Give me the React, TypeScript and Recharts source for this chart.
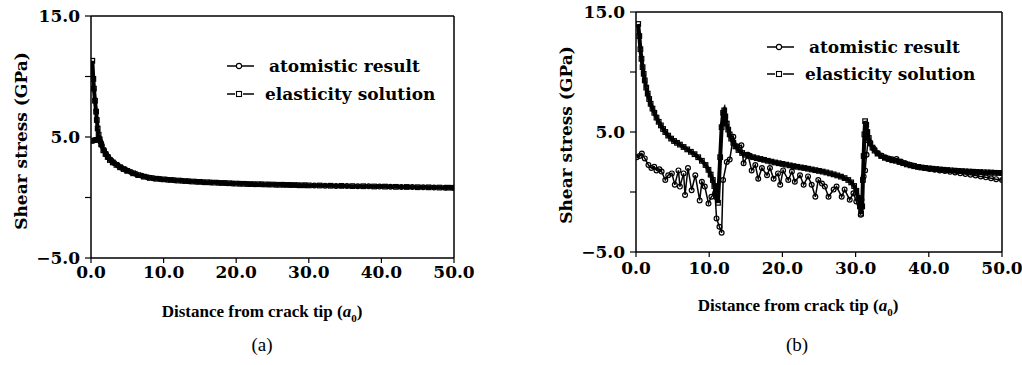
import React from "react";
import { LineChart, Line, XAxis, YAxis, ReferenceLine } from "recharts";

// ---------- Panel (a) ----------
const xLeftAtom = [0.1, 0.3, 0.5, 0.7, 0.9, 1.1, 1.3, 1.5, 1.8, 2.1, 2.4, 2.8, 3.2, 3.7, 4.2, 4.8, 5.5, 6.2, 7.0, 7.8, 8.6, 9.5, 10.5, 11.5, 12.5, 13.5, 14.5, 15.5, 16.5, 17.5, 18.5, 19.5, 20.5, 21.5, 22.5, 23.5, 24.5, 25.5, 26.5, 27.5, 28.5, 29.5, 30.75, 32.25, 33.75, 35.25, 36.75, 38.25, 39.75, 41.25, 42.75, 44.25, 45.75, 47.25, 48.75, 50];
const yLeftAtom = [4.7, 4.7, 4.75, 4.75, 4.8, 4.9, 4.6, 4.3, 3.9, 3.55, 3.3, 3.05, 2.85, 2.65, 2.45, 2.28, 2.1, 1.95, 1.8, 1.68, 1.6, 1.52, 1.47, 1.42, 1.38, 1.34, 1.3, 1.27, 1.24, 1.22, 1.19, 1.16, 1.14, 1.12, 1.1, 1.09, 1.07, 1.06, 1.05, 1.03, 1.02, 1.01, 0.99, 0.98, 0.96, 0.95, 0.93, 0.92, 0.9, 0.89, 0.87, 0.86, 0.84, 0.83, 0.81, 0.8];

const xLeftElas = [0.18, 0.32, 0.4, 0.55, 0.7, 0.8, 0.92, 1.05, 1.2, 1.4, 1.7, 2.0, 2.3, 2.6, 3.0, 3.5, 4.0, 4.5, 5.0, 5.8, 6.5, 7.3, 8.1, 9.0, 10, 11, 12, 13, 14, 15, 16, 17, 18, 19, 20, 21, 22, 23, 24, 25, 26, 27, 28, 29, 30, 31.5, 33, 34.5, 36, 37.5, 39, 40.5, 42, 43.5, 45, 46.5, 48, 49.2, 50];
const yLeftElas = [11.3, 9.8, 9.0, 8.0, 7.1, 6.4, 5.7, 5.2, 4.8, 4.4, 3.9, 3.6, 3.35, 3.1, 2.9, 2.7, 2.5, 2.35, 2.2, 2.0, 1.85, 1.72, 1.62, 1.55, 1.5, 1.45, 1.4, 1.36, 1.32, 1.29, 1.26, 1.23, 1.2, 1.18, 1.15, 1.13, 1.11, 1.1, 1.08, 1.07, 1.05, 1.04, 1.03, 1.01, 1.0, 0.99, 0.97, 0.96, 0.94, 0.93, 0.91, 0.9, 0.88, 0.87, 0.85, 0.84, 0.82, 0.81, 0.8];

// ---------- Panel (b) ----------
const xRightAtom = [0.1, 0.5, 0.8, 1.2, 1.7, 2.1, 2.5, 2.8, 3.2, 3.5, 4.0, 4.4, 4.9, 5.3, 5.8, 6.0, 6.5, 6.7, 7.1, 7.6, 8.1, 8.7, 9.0, 9.4, 9.9, 10.3, 10.8, 11.0, 11.4, 11.7, 11.9, 12.4, 12.8, 13.3, 13.8, 14.4, 14.7, 15.3, 15.8, 16.3, 16.7, 17.2, 17.9, 18.3, 18.8, 19.4, 19.7, 20.1, 20.8, 21.3, 21.7, 22.4, 22.9, 23.5, 24.0, 24.5, 24.9, 25.4, 25.8, 26.3, 27.0, 27.4, 28.1, 28.5, 29.2, 29.7, 30.1, 30.7, 30.8, 31.1, 31.3, 31.5, 31.7, 32.0, 32.5, 33.0, 33.5, 34.0, 34.5, 35.0, 35.6, 36.2, 36.8, 37.4, 38.0, 38.7, 39.4, 40.1, 40.8, 41.5, 42.2, 42.9, 43.6, 44.3, 45.0, 45.7, 46.4, 47.1, 47.8, 48.5, 49.2, 50.0];
const yRightAtom = [2.9, 3.0, 3.2, 2.8, 2.25, 2.0, 2.1, 1.8, 1.9, 1.7, 1.0, 1.4, 1.55, 0.6, 1.8, 0.45, 1.55, -0.25, 2.0, 0.15, 1.4, -0.7, 0.85, 0.45, -0.95, -0.4, -0.1, -2.2, -2.9, -3.4, 1.0, 2.5, 2.7, 4.6, 3.8, 3.9, 2.4, 3.1, 1.8, 2.25, 1.1, 2.0, 1.4, 2.0, 1.1, 1.55, 0.6, 1.8, 1.0, 1.7, 0.85, 1.4, 0.6, 1.3, 0.6, -0.4, 1.0, 0.7, 0.45, -0.4, 0.2, 0.45, -0.4, 0.2, -0.65, -0.1, -0.8, -1.9, -0.65, 1.3, 1.8, 3.1, 4.3, 4.1, 3.6, 3.25, 3.05, 2.9, 2.8, 2.72, 2.75, 2.55, 2.4, 2.28, 2.18, 2.08, 2.0, 1.92, 1.86, 1.8, 1.74, 1.68, 1.62, 1.56, 1.5, 1.44, 1.38, 1.3, 1.22, 1.15, 1.07, 1.0];

const xRightElas = [0.3, 0.45, 0.6, 0.75, 0.9, 1.05, 1.2, 1.4, 1.6, 1.8, 2.0, 2.25, 2.5, 2.8, 3.1, 3.4, 3.7, 4.0, 4.4, 4.8, 5.2, 5.6, 6.0, 6.5, 7.0, 7.5, 8.0, 8.5, 9.0, 9.5, 9.9, 10.2, 10.5, 10.7, 10.9, 11.0, 11.2, 11.5, 11.7, 11.9, 12.05, 12.2, 12.4, 12.6, 12.8, 13.0, 13.3, 13.6, 14.0, 14.5, 15.0, 15.5, 16.0, 16.5, 17.0, 17.5, 18.0, 18.5, 19.0, 19.5, 20.0, 20.5, 21.0, 21.5, 22.0, 22.5, 23.0, 23.5, 24.0, 24.5, 25.0, 25.5, 26.0, 26.5, 27.0, 27.5, 28.0, 28.5, 29.0, 29.4, 29.8, 30.1, 30.4, 30.6, 30.75, 30.9, 31.0, 31.1, 31.2, 31.3, 31.45, 31.6, 31.8, 32.0, 32.3, 32.6, 33.0, 33.5, 34.0, 34.5, 35.0, 35.5, 36.0, 36.5, 37.0, 37.5, 38.0, 38.5, 39.0, 39.5, 40.0, 40.5, 41.0, 41.5, 42.0, 42.5, 43.0, 43.5, 44.0, 44.5, 45.0, 45.5, 46.0, 46.5, 47.0, 47.5, 48.0, 48.5, 49.0, 49.5, 50.0];
const yRightElas = [14.0, 13.0, 11.9, 11.1, 10.4, 9.85, 9.3, 8.7, 8.2, 7.75, 7.35, 6.95, 6.6, 6.2, 5.85, 5.55, 5.25, 5.0, 4.7, 4.45, 4.25, 4.1, 3.95, 3.75, 3.55, 3.35, 3.15, 2.9, 2.6, 2.25, 1.85, 1.45, 1.0, 0.5, 0.0, -0.4, -0.9, 2.9, 5.4, 6.6, 6.8, 6.3, 5.7, 5.2, 4.8, 4.45, 4.1, 3.8, 3.5, 3.25, 3.1, 3.0, 2.9, 2.82, 2.75, 2.68, 2.6, 2.53, 2.46, 2.4, 2.34, 2.28, 2.22, 2.16, 2.1, 2.05, 2.0, 1.94, 1.88, 1.82, 1.76, 1.7, 1.63, 1.55, 1.47, 1.38, 1.28, 1.16, 1.0, 0.8, 0.5, 0.1, -0.5, -1.2, -1.8, -1.2, 1.0, 3.0, 4.8, 5.9, 5.6, 5.0, 4.5, 4.05, 3.7, 3.45, 3.2, 3.0, 2.85, 2.75, 2.65, 2.6, 2.5, 2.4, 2.3, 2.22, 2.15, 2.09, 2.04, 2.0, 1.97, 1.94, 1.91, 1.88, 1.85, 1.83, 1.8, 1.78, 1.76, 1.74, 1.72, 1.7, 1.69, 1.67, 1.66, 1.64, 1.63, 1.62, 1.6, 1.59, 1.58];

// ---------- Axes / labels ----------
const xTicks = [0, 10, 20, 30, 40, 50];
const yTicks = [-5, 0, 5, 10, 15];
const yLabeled = [-5, 5, 15];
const seriesNames = ["atomistic result", "elasticity solution"];
const xTitle = "Distance from crack tip";
const yTitle = "Shear stress (GPa)";
const panelCaptions = ["(a)", "(b)"];

const toPts = (xs: number[], ys: number[]) => xs.map((x, i) => ({ x, y: ys[i] }));

const TICK_FONT = { fontFamily: '"DejaVu Serif", serif', fontWeight: 700, fontSize: 17, fill: "#000" };

const fmtY = (v: number) => (yLabeled.includes(v) ? (v < 0 ? "\u2212" + Math.abs(v).toFixed(1) : v.toFixed(1)) : "");
const fmtX = (v: number) => v.toFixed(1);

const CircleDot = (p: any) => {
  const { cx, cy, index } = p;
  if (cx == null || cy == null) return <g key={"c" + index} />;
  return <circle key={"c" + index} cx={cx} cy={cy} r={2.4} fill="none" stroke="#000" strokeWidth={1.2} />;
};
const SquareDot = (p: any) => {
  const { cx, cy, index } = p;
  if (cx == null || cy == null) return <g key={"s" + index} />;
  return <rect key={"s" + index} x={cx - 2.3} y={cy - 2.3} width={4.6} height={4.6} fill="none" stroke="#000" strokeWidth={1.2} />;
};

const LegendRow = ({ left, top, square, text, textOffset }: any) => (
  <div style={{ position: "absolute", left, top, height: 20, display: "flex", alignItems: "center" }}>
    <svg width={30} height={20} style={{ display: "block" }}>
      {square ? (
        <g>
          <line x1={1} y1={10} x2={9} y2={10} stroke="#000" strokeWidth={1.5} />
          <line x1={17} y1={10} x2={28} y2={10} stroke="#000" strokeWidth={1.5} />
          <rect x={10.5} y={7.5} width={5} height={5} fill="#fff" stroke="#000" strokeWidth={1.1} />
        </g>
      ) : (
        <g>
          <line x1={1} y1={10} x2={28} y2={10} stroke="#000" strokeWidth={1.5} />
          <circle cx={13} cy={10} r={2.6} fill="#fff" stroke="#000" strokeWidth={1.1} />
        </g>
      )}
    </svg>
    <span
      style={{
        position: "absolute",
        left: textOffset,
        top: 0,
        lineHeight: "20px",
        whiteSpace: "nowrap",
        fontFamily: '"DejaVu Serif", serif',
        fontWeight: 700,
        fontSize: 17,
        color: "#000",
      }}
    >
      {text}
    </span>
  </div>
);

const Panel = ({ left, width, height, margin, yAxisWidth, atom, elas, tickMarginX }: any) => (
  <div style={{ position: "absolute", left, top: 0 }}>
    <LineChart width={width} height={height} margin={margin}>
      <XAxis
        type="number"
        dataKey="x"
        domain={[0, 50]}
        ticks={xTicks}
        tickFormatter={fmtX}
        allowDataOverflow
        tick={TICK_FONT}
        tickSize={5}
        tickMargin={tickMarginX}
        height={30}
        stroke="#000"
        axisLine={{ stroke: "#000", strokeWidth: 1.5 }}
        tickLine={{ stroke: "#000", strokeWidth: 1.2 }}
      />
      <YAxis
        type="number"
        dataKey="y"
        domain={[-5, 15]}
        ticks={yTicks}
        tickFormatter={fmtY}
        allowDataOverflow
        width={yAxisWidth}
        tick={TICK_FONT}
        tickSize={6}
        tickMargin={5}
        stroke="#000"
        axisLine={{ stroke: "#000", strokeWidth: 1.5 }}
        tickLine={{ stroke: "#000", strokeWidth: 1.2 }}
      />
      <ReferenceLine y={15} stroke="#000" strokeWidth={1.5} />
      <ReferenceLine x={50} stroke="#000" strokeWidth={1.5} />
      <Line
        data={atom}
        dataKey="y"
        type="linear"
        stroke="#000"
        strokeWidth={1.5}
        dot={CircleDot}
        activeDot={false}
        isAnimationActive={false}
      />
      <Line
        data={elas}
        dataKey="y"
        type="linear"
        stroke="#000"
        strokeWidth={4}
        dot={SquareDot}
        activeDot={false}
        isAnimationActive={false}
      />
    </LineChart>
  </div>
);

const titleStyle: React.CSSProperties = {
  position: "absolute",
  transform: "translate(-50%, -50%)",
  whiteSpace: "nowrap",
  fontFamily: '"Liberation Serif", serif',
  fontWeight: 700,
  fontSize: 17,
  color: "#000",
};

const yTitleStyle = (cx: number, cy: number): React.CSSProperties => ({
  position: "absolute",
  left: cx,
  top: cy,
  transform: "translate(-50%, -50%) rotate(-90deg)",
  whiteSpace: "nowrap",
  fontFamily: '"DejaVu Serif", serif',
  fontWeight: 700,
  fontSize: 17,
  color: "#000",
});

const captionStyle = (cx: number, cy: number): React.CSSProperties => ({
  position: "absolute",
  left: cx,
  top: cy,
  transform: "translate(-50%, -50%)",
  fontFamily: '"Liberation Serif", serif',
  fontSize: 19,
  color: "#000",
});

const XTitle = ({ cx, cy }: any) => (
  <div style={{ ...titleStyle, left: cx, top: cy }}>
    {xTitle} (<i>a</i>
    <sub style={{ fontSize: 11 }}>0</sub>)
  </div>
);

export default function App() {
  const leftAtom = toPts(xLeftAtom, yLeftAtom);
  const leftElas = toPts(xLeftElas, yLeftElas);
  const rightAtom = toPts(xRightAtom, yRightAtom);
  const rightElas = toPts(xRightElas, yRightElas);
  return (
    <div style={{ position: "absolute", left: 0, top: 0, width: 1022, height: 365, background: "#fff", overflow: "hidden" }}>
      <Panel
        left={0}
        width={480}
        height={300}
        margin={{ top: 16, right: 26, left: 0, bottom: 12 }}
        yAxisWidth={91}
        atom={leftAtom}
        elas={leftElas}
        tickMarginX={3}
      />
      <Panel
        left={510}
        width={512}
        height={300}
        margin={{ top: 12, right: 20, left: 0, bottom: 18 }}
        yAxisWidth={126}
        atom={rightAtom}
        elas={rightElas}
        tickMarginX={5}
      />
      <LegendRow left={226} top={56} square={false} text={seriesNames[0]} textOffset={43} />
      <LegendRow left={226} top={84} square={true} text={seriesNames[1]} textOffset={39} />
      <LegendRow left={766} top={37} square={false} text={seriesNames[0]} textOffset={43} />
      <LegendRow left={766} top={64} square={true} text={seriesNames[1]} textOffset={39} />
      <div style={yTitleStyle(21, 141)}>{yTitle}</div>
      <div style={yTitleStyle(566, 135)}>{yTitle}</div>
      <XTitle cx={262} cy={313} />
      <XTitle cx={798} cy={307} />
      <div style={captionStyle(262, 345)}>{panelCaptions[0]}</div>
      <div style={captionStyle(797, 345)}>{panelCaptions[1]}</div>
    </div>
  );
}
